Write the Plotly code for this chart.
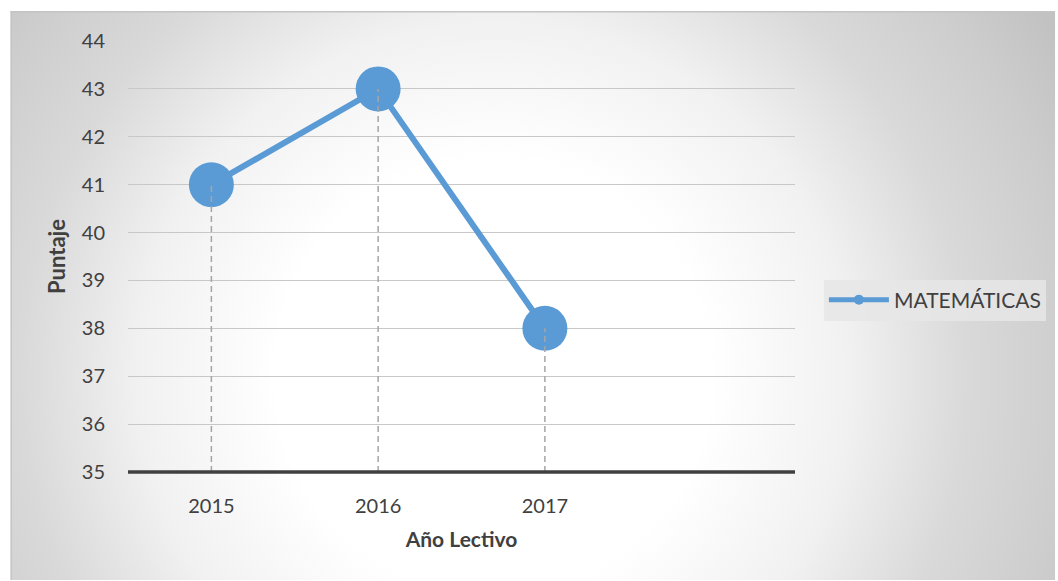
import plotly.graph_objects as go
import urllib.parse

years = [2015, 2016, 2017]
scores = [41, 43, 38]
series_name = "MATEMÁTICAS"
y_ticks = [35, 36, 37, 38, 39, 40, 41, 42, 43, 44]

BLUE = "#5B9BD5"
FONT = "Lato"

W, H = 1058, 581
L, R, T, B = 128, 261, 41, 109
pw, ph = W - L - R, H - T - B

# radial gradient background as an SVG image
svg = (
    "<svg xmlns='http://www.w3.org/2000/svg' width='1048' height='569' viewBox='0 0 1048 569' preserveAspectRatio='none'>"
    "<defs><radialGradient id='g' gradientUnits='userSpaceOnUse' cx='485' cy='365' r='660'>"
    "<stop offset='0' stop-color='#ffffff'/>"
    "<stop offset='0.33' stop-color='#ffffff'/>"
    "<stop offset='0.54' stop-color='#f1f1f1'/>"
    "<stop offset='0.72' stop-color='#d9d9d9'/>"
    "<stop offset='0.88' stop-color='#cdcdcd'/>"
    "<stop offset='1' stop-color='#c2c2c2'/>"
    "</radialGradient></defs>"
    "<rect x='0' y='0' width='1048' height='569' fill='url(#g)'/>"
    "<line x1='0' y1='0.8' x2='1048' y2='0.8' stroke='#c4c4c4' stroke-width='1.6'/>"
    "<line x1='0.8' y1='0' x2='0.8' y2='569' stroke='#c4c4c4' stroke-width='1.6'/>"
    "</svg>"
)
src = "data:image/svg+xml;charset=utf-8," + urllib.parse.quote(svg)

fig = go.Figure()

fig.add_trace(go.Scatter(
    x=years, y=scores, mode="lines+markers",
    line=dict(color=BLUE, width=6),
    marker=dict(color=BLUE, size=45),
    showlegend=False, hoverinfo="x+y",
))

# drop lines from each point to the axis
dx, dy = [], []
for xv, yv in zip(years, scores):
    dx += [xv, xv, None]
    dy += [y_ticks[0], yv, None]
fig.add_trace(go.Scatter(
    x=dx, y=dy, mode="lines",
    line=dict(color="#a5a5a5", width=1.5, dash="6px,4px"),
    showlegend=False, hoverinfo="skip",
))

# legend entry
fig.add_trace(go.Scatter(
    x=[None], y=[None], mode="lines+markers", name=series_name,
    line=dict(color=BLUE, width=5), marker=dict(color=BLUE, size=10),
))

fig.update_layout(
    width=W, height=H,
    margin=dict(l=L, r=R, t=T, b=B, pad=0),
    paper_bgcolor="white",
    plot_bgcolor="rgba(0,0,0,0)",
    font=dict(family=FONT, color="#404040", size=19),
    images=[dict(
        source=src, xref="paper", yref="paper",
        x=(10 - L) / pw, y=(H - B - 11) / ph,
        sizex=(W - 10) / pw, sizey=(580 - 11) / ph,
        xanchor="left", yanchor="top", sizing="stretch", layer="below",
    )],
    xaxis=dict(
        range=[2014.5, 2018.5],
        tickvals=years, ticktext=[str(y) for y in years],
        showgrid=False, zeroline=False, showline=False,
        ticks="", ticklabelstandoff=20,
        tickfont=dict(size=20, color="#404040"),
        title=dict(text="<b>Año Lectivo</b>", font=dict(size=21, color="#404040"), standoff=16),
    ),
    yaxis=dict(
        range=[35, 44], tickvals=y_ticks,
        showgrid=True, gridcolor="#c8c8c8", gridwidth=1,
        zeroline=False, showline=False,
        ticks="", ticklabelstandoff=22,
        tickfont=dict(size=20, color="#404040"),
        title=dict(text="<b>Puntaje</b>", font=dict(size=22, color="#404040"), standoff=10),
    ),
    shapes=[dict(type="line", xref="paper", yref="paper", x0=0, x1=1, y0=0, y1=0,
                 line=dict(color="#404040", width=3.5), layer="above")],
    legend=dict(
        x=(826 - L) / pw, y=(472 - 300) / ph, xanchor="left", yanchor="middle",
        bgcolor="rgba(230,230,230,0.85)", borderwidth=0,
        font=dict(size=21, color="#404040"),
        itemwidth=60,
    ),
    showlegend=True,
)

fig.write_html("out.html")
